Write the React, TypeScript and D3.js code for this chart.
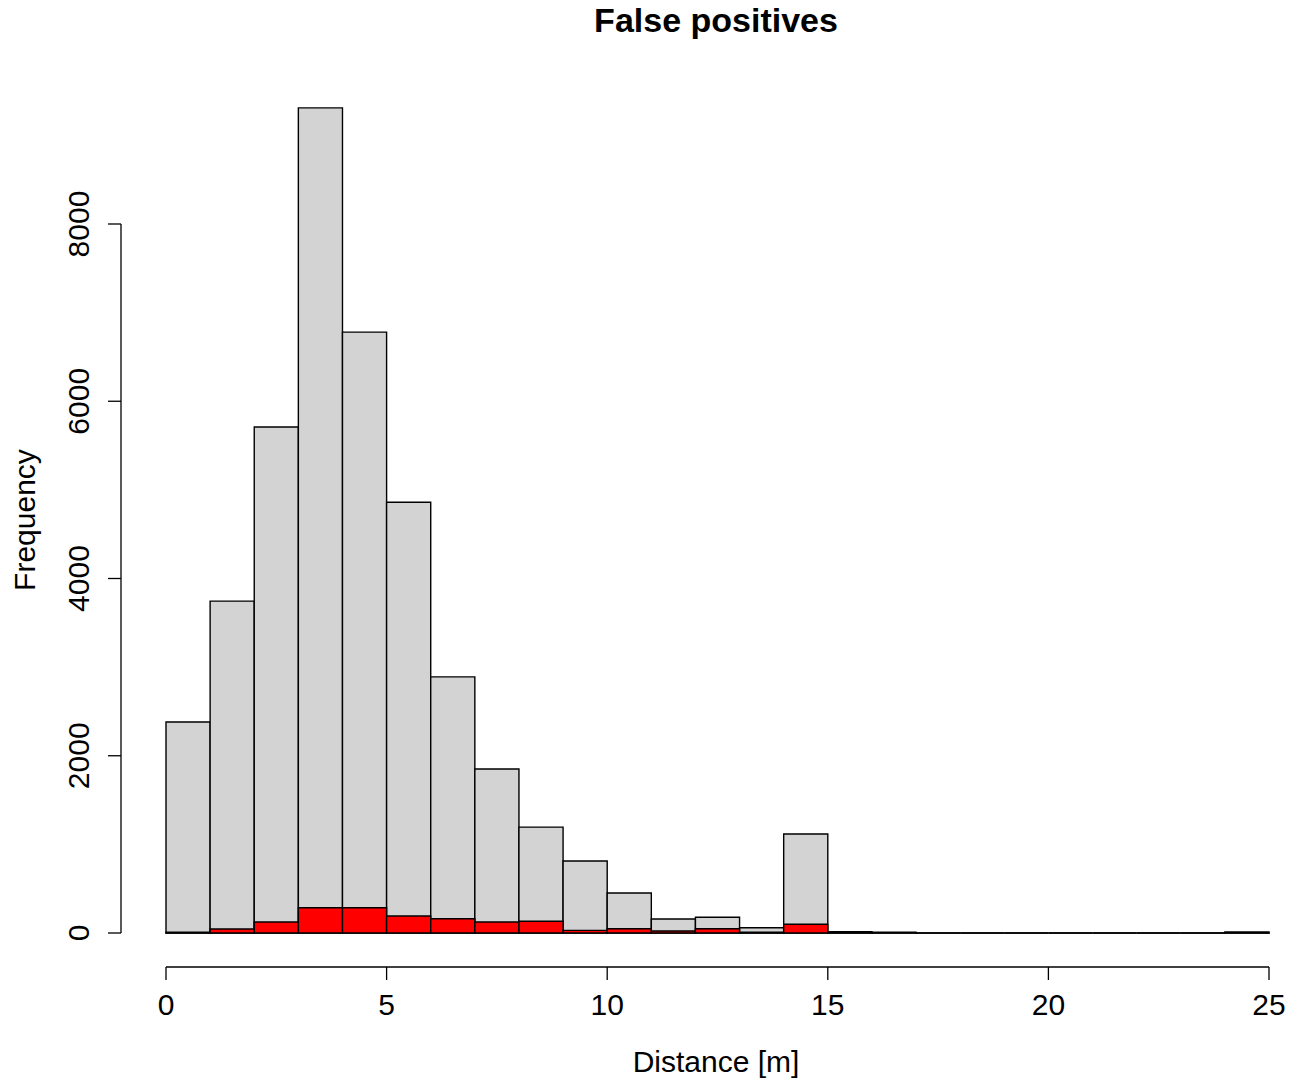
import React, { useEffect, useRef } from 'react';
import * as d3 from 'd3';

// histogram bins (1 m wide) and counts
const binStarts = [0, 1, 2, 3, 4, 5, 6, 7, 8, 9, 10, 11, 12, 13, 14, 15, 16, 17, 18, 19, 20, 21, 22, 23, 24];
const allCounts = [2380, 3745, 5710, 9310, 6780, 4860, 2890, 1850, 1195, 812, 451, 158, 177, 60, 1117, 14, 10, 0, 0, 0, 0, 0, 0, 0, 12];
const redCounts = [8, 45, 124, 285, 285, 192, 161, 124, 132, 30, 48, 22, 48, 10, 98, 3, 2, 0, 0, 0, 0, 0, 0, 0, 2];
const xTicks = [0, 5, 10, 15, 20, 25];
const yTicks = [0, 2000, 4000, 6000, 8000];

const W = 1291;
const H = 1081;
const FONT = 'Liberation Sans, Arial, sans-serif';

const App = () => {
  const svgRef = useRef<SVGSVGElement>(null);

  useEffect(() => {
    document.body.style.margin = '0';
    const svg = d3.select(svgRef.current);
    svg.selectAll('*').remove();

    const x = d3.scaleLinear().domain([0, 25]).range([166, 1269]);
    const y = d3.scaleLinear().domain([0, 8000]).range([933, 224]);

    // bars drawn as paths so zero-height bins still show their outline
    const barPath = (x0: number, x1: number, v: number) =>
      `M${x(x0)},${y(0)}V${y(v)}H${x(x1)}V${y(0)}Z`;

    svg.append('g')
      .selectAll('path')
      .data(binStarts)
      .enter()
      .append('path')
      .attr('d', (d, i) => barPath(d, d + 1, allCounts[i]))
      .attr('fill', '#d3d3d3')
      .attr('stroke', '#000')
      .attr('stroke-width', 1.4);

    svg.append('g')
      .selectAll('path')
      .data(binStarts)
      .enter()
      .append('path')
      .attr('d', (d, i) => barPath(d, d + 1, redCounts[i]))
      .attr('fill', '#ff0000')
      .attr('stroke', '#000')
      .attr('stroke-width', 1.4);

    // y axis
    const yAxis = svg.append('g').attr('transform', 'translate(121,0)');
    yAxis.append('line')
      .attr('x1', 0).attr('x2', 0)
      .attr('y1', y(0)).attr('y2', y(8000))
      .attr('stroke', '#000').attr('stroke-width', 1.3);
    yTicks.forEach(t => {
      yAxis.append('line')
        .attr('x1', -13).attr('x2', 0)
        .attr('y1', y(t)).attr('y2', y(t))
        .attr('stroke', '#000').attr('stroke-width', 1.3);
      yAxis.append('text')
        .attr('transform', `translate(-32,${y(t)}) rotate(-90)`)
        .attr('text-anchor', 'middle')
        .attr('font-family', FONT)
        .attr('font-size', 30)
        .attr('fill', '#000')
        .text(t);
    });

    // x axis
    const xAxis = svg.append('g').attr('transform', 'translate(0,967)');
    xAxis.append('line')
      .attr('x1', x(0)).attr('x2', x(25))
      .attr('y1', 0).attr('y2', 0)
      .attr('stroke', '#000').attr('stroke-width', 1.3);
    xTicks.forEach(t => {
      xAxis.append('line')
        .attr('x1', x(t)).attr('x2', x(t))
        .attr('y1', 0).attr('y2', 13)
        .attr('stroke', '#000').attr('stroke-width', 1.3);
      xAxis.append('text')
        .attr('x', x(t))
        .attr('y', 48)
        .attr('text-anchor', 'middle')
        .attr('font-family', FONT)
        .attr('font-size', 30)
        .attr('fill', '#000')
        .text(t);
    });

    // titles
    svg.append('text')
      .attr('x', 716).attr('y', 32)
      .attr('text-anchor', 'middle')
      .attr('font-family', FONT)
      .attr('font-weight', 'bold')
      .attr('font-size', 34)
      .text('False positives');

    svg.append('text')
      .attr('x', 716).attr('y', 1072)
      .attr('text-anchor', 'middle')
      .attr('font-family', FONT)
      .attr('font-size', 30)
      .text('Distance [m]');

    svg.append('text')
      .attr('transform', `translate(35,520) rotate(-90)`)
      .attr('text-anchor', 'middle')
      .attr('font-family', FONT)
      .attr('font-size', 30)
      .text('Frequency');
  }, []);

  return (
    <svg ref={svgRef} width={W} height={H} style={{ display: 'block', background: '#fff' }} />
  );
};

export default App;
